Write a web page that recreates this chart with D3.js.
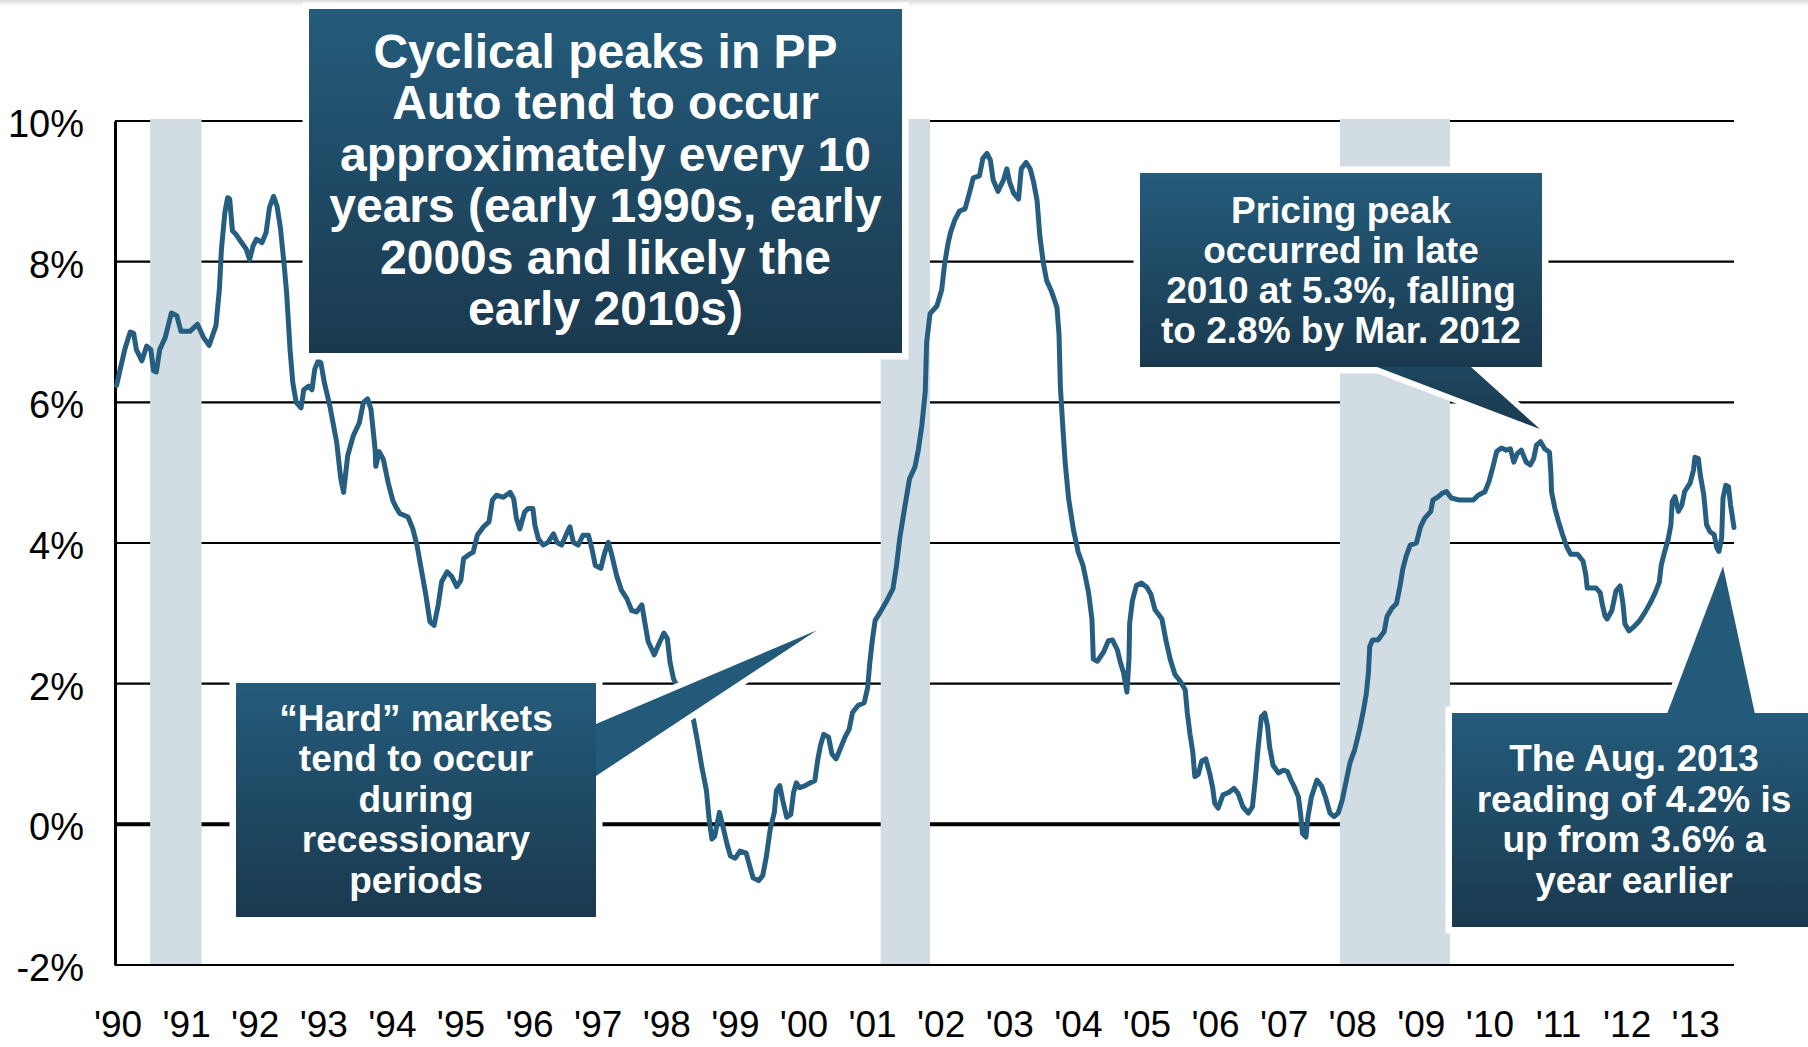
<!DOCTYPE html>
<html><head><meta charset="utf-8">
<script src="https://cdn.jsdelivr.net/npm/d3@7"></script>
<style>
html,body{margin:0;padding:0;background:#fff;}
svg{display:block;}
text{font-family:"Liberation Sans",Arial,Helvetica,sans-serif;}
</style></head><body>
<svg id="chart" width="1808" height="1047"></svg>
<script>
// ---- data (decimal year, % change) ----
const years = [1990.00,1990.12,1990.20,1990.25,1990.29,1990.37,1990.44,1990.50,1990.54,1990.58,1990.63,1990.71,1990.80,1990.88,1990.94,1991.07,1991.18,1991.27,1991.35,1991.45,1991.50,1991.53,1991.58,1991.62,1991.65,1991.69,1991.74,1991.81,1991.89,1991.94,1991.99,1992.04,1992.12,1992.18,1992.23,1992.29,1992.34,1992.39,1992.44,1992.48,1992.53,1992.57,1992.62,1992.69,1992.73,1992.80,1992.85,1992.89,1992.94,1992.98,1993.03,1993.11,1993.21,1993.27,1993.31,1993.37,1993.45,1993.54,1993.60,1993.66,1993.71,1993.77,1993.78,1993.83,1993.89,1993.96,1994.03,1994.08,1994.13,1994.25,1994.32,1994.38,1994.45,1994.51,1994.57,1994.63,1994.69,1994.74,1994.82,1994.89,1994.96,1995.02,1995.06,1995.13,1995.20,1995.26,1995.35,1995.43,1995.48,1995.54,1995.64,1995.74,1995.79,1995.83,1995.88,1995.95,1996.00,1996.07,1996.10,1996.15,1996.22,1996.29,1996.37,1996.42,1996.49,1996.56,1996.61,1996.66,1996.73,1996.80,1996.88,1996.93,1996.98,1997.06,1997.12,1997.17,1997.22,1997.29,1997.36,1997.44,1997.51,1997.58,1997.66,1997.70,1997.75,1997.84,1997.90,1997.98,1998.03,1998.07,1998.12,1998.25,1998.41,1998.47,1998.53,1998.60,1998.64,1998.68,1998.72,1998.79,1998.84,1998.90,1998.95,1999.02,1999.09,1999.18,1999.23,1999.28,1999.36,1999.42,1999.47,1999.53,1999.59,1999.62,1999.67,1999.71,1999.77,1999.83,1999.87,1999.91,1999.96,2000.04,2000.11,2000.18,2000.22,2000.26,2000.31,2000.38,2000.43,2000.49,2000.55,2000.62,2000.68,2000.73,2000.81,2000.90,2000.95,2000.98,2001.02,2001.06,2001.13,2001.23,2001.32,2001.37,2001.42,2001.49,2001.56,2001.64,2001.69,2001.74,2001.79,2001.81,2001.86,2001.96,2002.03,2002.07,2002.12,2002.16,2002.22,2002.29,2002.37,2002.44,2002.49,2002.58,2002.63,2002.69,2002.74,2002.78,2002.85,2002.93,2002.98,2003.02,2003.08,2003.15,2003.19,2003.26,2003.32,2003.37,2003.42,2003.46,2003.51,2003.56,2003.63,2003.71,2003.74,2003.76,2003.80,2003.83,2003.88,2003.95,2004.02,2004.09,2004.17,2004.22,2004.24,2004.30,2004.39,2004.46,2004.52,2004.59,2004.63,2004.68,2004.73,2004.76,2004.77,2004.81,2004.87,2004.94,2005.02,2005.08,2005.14,2005.24,2005.30,2005.36,2005.43,2005.51,2005.58,2005.61,2005.65,2005.69,2005.72,2005.77,2005.82,2005.88,2005.94,2005.98,2006.01,2006.06,2006.13,2006.21,2006.29,2006.35,2006.42,2006.50,2006.56,2006.60,2006.64,2006.69,2006.74,2006.78,2006.81,2006.86,2006.94,2007.01,2007.07,2007.12,2007.18,2007.23,2007.26,2007.29,2007.34,2007.37,2007.42,2007.50,2007.57,2007.63,2007.69,2007.75,2007.81,2007.87,2007.93,2007.98,2008.05,2008.12,2008.18,2008.22,2008.25,2008.27,2008.31,2008.39,2008.48,2008.52,2008.59,2008.66,2008.71,2008.75,2008.80,2008.86,2008.95,2009.01,2009.07,2009.16,2009.19,2009.27,2009.33,2009.39,2009.46,2009.58,2009.78,2009.85,2009.95,2010.01,2010.07,2010.12,2010.19,2010.26,2010.32,2010.37,2010.42,2010.48,2010.55,2010.61,2010.66,2010.70,2010.76,2010.82,2010.89,2010.91,2010.92,2010.97,2011.02,2011.08,2011.14,2011.20,2011.30,2011.38,2011.42,2011.44,2011.57,2011.63,2011.66,2011.70,2011.73,2011.80,2011.86,2011.92,2011.96,2011.99,2012.05,2012.11,2012.20,2012.28,2012.36,2012.43,2012.49,2012.52,2012.57,2012.62,2012.66,2012.68,2012.72,2012.77,2012.82,2012.86,2012.94,2012.99,2013.01,2013.06,2013.09,2013.14,2013.18,2013.23,2013.29,2013.33,2013.36,2013.40,2013.42,2013.46,2013.50,2013.53,2013.58];
const values = [6.24,6.75,7.00,6.98,6.75,6.59,6.80,6.75,6.45,6.43,6.75,6.92,7.27,7.23,7.01,7.01,7.11,6.92,6.81,7.09,7.61,8.18,8.70,8.91,8.89,8.44,8.39,8.29,8.18,8.03,8.22,8.32,8.27,8.41,8.77,8.93,8.79,8.48,7.99,7.56,6.75,6.28,6.00,5.92,6.18,6.23,6.18,6.47,6.59,6.56,6.28,5.95,5.43,4.91,4.72,5.24,5.52,5.71,6.00,6.05,5.90,5.33,5.09,5.30,5.19,4.86,4.60,4.50,4.42,4.37,4.20,3.97,3.59,3.26,2.88,2.83,3.12,3.45,3.59,3.52,3.38,3.47,3.78,3.83,3.87,4.11,4.23,4.30,4.61,4.68,4.65,4.72,4.63,4.35,4.20,4.44,4.49,4.49,4.25,4.06,3.97,4.01,4.13,4.01,3.97,4.13,4.23,4.01,3.97,4.11,4.11,3.92,3.68,3.64,3.87,4.01,3.83,3.54,3.33,3.21,3.04,3.02,3.12,2.88,2.60,2.41,2.55,2.72,2.64,2.30,2.07,1.80,1.49,1.18,0.83,0.48,0.07,-0.21,-0.17,0.17,-0.03,-0.28,-0.45,-0.48,-0.38,-0.41,-0.59,-0.76,-0.80,-0.73,-0.48,-0.07,0.17,0.48,0.55,0.35,0.10,0.14,0.45,0.59,0.52,0.55,0.59,0.62,0.90,1.11,1.28,1.24,1.00,0.93,1.07,1.24,1.35,1.59,1.69,1.73,1.94,2.28,2.63,2.90,3.01,3.18,3.35,3.67,4.08,4.50,4.91,5.08,5.33,5.67,6.15,6.85,7.26,7.37,7.60,7.95,8.25,8.42,8.59,8.72,8.75,9.00,9.19,9.22,9.47,9.54,9.44,9.16,9.00,9.16,9.32,9.13,8.97,8.89,9.32,9.41,9.32,9.13,8.87,8.37,7.99,7.73,7.58,7.35,6.97,6.22,5.58,5.14,4.63,4.19,3.87,3.68,3.30,2.92,2.35,2.32,2.45,2.61,2.62,2.48,2.32,2.16,1.88,2.35,2.86,3.18,3.40,3.43,3.37,3.27,3.05,2.92,2.61,2.35,2.13,2.03,1.91,1.59,1.28,1.03,0.68,0.71,0.90,0.93,0.71,0.52,0.30,0.23,0.42,0.45,0.51,0.44,0.25,0.16,0.25,0.63,1.06,1.53,1.58,1.39,1.10,0.84,0.73,0.77,0.75,0.63,0.51,0.39,0.16,-0.13,-0.18,0.11,0.39,0.63,0.54,0.37,0.16,0.11,0.16,0.35,0.63,0.87,1.06,1.34,1.63,1.86,2.15,2.53,2.62,2.62,2.74,2.95,3.07,3.14,3.38,3.62,3.81,3.97,4.00,4.23,4.35,4.45,4.61,4.66,4.71,4.73,4.64,4.61,4.61,4.68,4.73,4.88,5.10,5.30,5.35,5.32,5.34,5.15,5.27,5.32,5.15,5.11,5.20,5.39,5.44,5.34,5.29,5.01,4.73,4.49,4.31,4.12,3.95,3.84,3.84,3.74,3.55,3.36,3.36,3.29,3.13,2.96,2.92,3.04,3.32,3.39,3.15,2.85,2.75,2.80,2.89,3.01,3.15,3.29,3.44,3.69,3.88,4.05,4.26,4.59,4.66,4.45,4.54,4.73,4.85,5.04,5.22,5.20,4.96,4.68,4.26,4.16,4.12,3.93,3.88,4.07,4.64,4.82,4.80,4.54,4.22];
const yTicks = [-2, 0, 2, 4, 6, 8, 10];
const xTickYears = d3.range(1990, 2014);
const recessionStart = [1990.49, 2001.14, 2007.835];
const recessionEnd   = [1991.24, 2001.86, 2009.44];

const note1 = ["Cyclical peaks in PP","Auto tend to occur","approximately every 10","years (early 1990s, early","2000s and likely the","early 2010s)"];
const note2 = ["\u201CHard\u201D markets","tend to occur","during","recessionary","periods"];
const note3 = ["Pricing peak","occurred in late","2010 at 5.3%, falling","to 2.8% by Mar. 2012"];
const note4 = ["The Aug. 2013","reading of 4.2% is","up from 3.6% a","year earlier"];

// ---- setup ----
const svg = d3.select("#chart");
const x = d3.scaleLinear().domain([1990, 2013.58]).range([116.5, 1734]);
const y = d3.scaleLinear().domain([-2, 10]).range([965, 121]);
const data = years.map((t,i)=>({t, v: values[i]}));

const defs = svg.append("defs");
function grad(id, c1, c2){
  const g = defs.append("linearGradient").attr("id", id).attr("x1",0).attr("y1",0).attr("x2",0).attr("y2",1);
  g.append("stop").attr("offset","0%").attr("stop-color",c1);
  g.append("stop").attr("offset","100%").attr("stop-color",c2);
}
grad("boxg", "#245b7b", "#1a394e");
grad("ptr3", "#1e4660", "#1a3a4f");
grad("topg", "#dcdcdc", "#ffffff");

svg.append("rect").attr("x",0).attr("y",0).attr("width",1808).attr("height",7).attr("fill","url(#topg)");

// gridlines
svg.append("g").selectAll("line").data(yTicks).join("line")
  .attr("x1", 115).attr("x2", 1734)
  .attr("y1", d=>y(d)).attr("y2", d=>y(d))
  .attr("stroke", "#000")
  .attr("stroke-width", d=> d===0 ? 4 : 2.2);

// recession bands
svg.append("g").selectAll("rect").data(recessionStart).join("rect")
  .attr("x", d=>x(d))
  .attr("width", (d,i)=>x(recessionEnd[i]) - x(d))
  .attr("y", y(10)-2)
  .attr("height", y(-2) - y(10) + 1)
  .attr("fill", "#d1dce3");

// y axis
const yAxis = d3.axisLeft(y).tickValues(yTicks).tickSize(0).tickSizeOuter(0).tickPadding(31)
  .tickFormat(d=>d+"%");
const gy = svg.append("g").attr("transform","translate(115,0)").call(yAxis);
gy.select(".domain").attr("stroke","#000").attr("stroke-width",3);
gy.selectAll("text").attr("font-size",38).attr("fill","#000").attr("dy","0.41em")
  .style("font-family","'Liberation Sans',Arial,sans-serif");

// x axis
const xAxis = d3.axisBottom(x).tickValues(xTickYears).tickSize(0).tickPadding(46)
  .tickFormat(d=>"'"+String(d).slice(2));
const gx = svg.append("g").attr("transform","translate(1,965)").call(xAxis);
gx.select(".domain").remove();
gx.selectAll("text").attr("font-size",37).attr("fill","#000")
  .style("font-family","'Liberation Sans',Arial,sans-serif");

// data line
const line = d3.line().x(d=>x(d.t)).y(d=>y(d.v));
svg.append("path").datum(data).attr("d", line)
  .attr("fill","none").attr("stroke","#255e80").attr("stroke-width",5)
  .attr("stroke-linejoin","round").attr("stroke-linecap","round");

// annotation callouts
const callouts = [
  {box:[309, 9, 593, 344], ptr:null, lines:note1, fs:48, cx:605.5, base:68, lh:51.4, pfill:null},
  {box:[236, 683, 360, 234], ptr:[[596,724],[596,776],[x(2000.21), y(2.76)]], lines:note2, fs:37, cx:416, base:731, lh:40.4, pfill:"#235a7a"},
  {box:[1140, 173, 402, 194], ptr:[[1377,367],[1471,367],[x(2010.75), y(5.62)]], lines:note3, fs:37, cx:1341, base:222.5, lh:40, pfill:"url(#ptr3)"},
  {box:[1452, 713, 380, 214], ptr:[[1667,714],[1755,714],[x(2013.42), y(3.67)]], lines:note4, fs:37, cx:1634, base:771, lh:40.5, pfill:"#235a7a"}
];
const cg = svg.append("g");
// white outlines first
callouts.forEach(c=>{
  cg.append("rect").attr("x",c.box[0]).attr("y",c.box[1]).attr("width",c.box[2]).attr("height",c.box[3])
    .attr("fill","#fff").attr("stroke","#fff").attr("stroke-width",13);
  if(c.ptr){
    cg.append("path").attr("d","M"+c.ptr.map(p=>p.join(",")).join("L")+"Z")
      .attr("fill","#fff").attr("stroke","#fff").attr("stroke-width",12).attr("stroke-linejoin","round");
  }
});
callouts.forEach(c=>{
  cg.append("rect").attr("x",c.box[0]).attr("y",c.box[1]).attr("width",c.box[2]).attr("height",c.box[3])
    .attr("fill","url(#boxg)");
  if(c.ptr){
    cg.append("path").attr("d","M"+c.ptr.map(p=>p.join(",")).join("L")+"Z").attr("fill",c.pfill);
  }
  const tg = cg.append("g");
  c.lines.forEach((s,i)=>{
    tg.append("text").attr("x",c.cx).attr("y",c.base + i*c.lh)
      .attr("text-anchor","middle").attr("font-size",c.fs).attr("font-weight","bold")
      .attr("fill","#fff").text(s);
  });
});
</script>
</body></html>
